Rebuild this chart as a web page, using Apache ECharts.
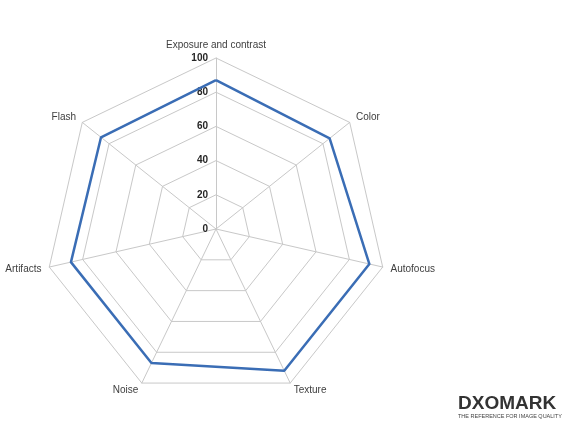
<!DOCTYPE html>
<html>
<head>
<meta charset="utf-8">
<script src="https://cdn.jsdelivr.net/npm/echarts@6/dist/echarts.min.js"></script>
<style>
html,body{margin:0;padding:0;background:#fff;}
#radar{width:570px;height:431px;}
</style>
</head>
<body>
<div id="radar"></div>
<script>
// clockwise from the top
var names=['Exposure and contrast','Color','Autofocus','Texture','Noise','Artifacts','Flash'];
var scores=[87,85,92,92,87,87,86];
var maxScore=100;
var tickStep=20;

var mychart=echarts.init(document.getElementById("radar"));
// echarts lays radar axes out counterclockwise, so walk the list backwards after the first one
var indicator=[];
var values=[];
for (var i=0;i<names.length;i++){
    var k=(names.length-i)%names.length;
    indicator.push({name:names[k],max:maxScore,min:0});
    values.push(scores[k]);
}
option = {
    backgroundColor:'#fff',
    textStyle:{fontFamily:'Liberation Sans'},
    title : {
        text: 'DXOMARK',
        subtext: 'THE REFERENCE FOR IMAGE QUALITY',
        left: 453,
        top: 389,
        itemGap: 0,
        textStyle:{fontSize:19,fontWeight:'bold',color:'#333',fontFamily:'Liberation Sans'},
        subtextStyle:{fontSize:5.5,color:'#444',fontFamily:'Liberation Sans'}
    },
    radar: {
        center:[216,229],
        radius:171,
        startAngle:90,
        shape:'polygon',
        splitNumber:5,
        indicator:indicator,
        nameGap:8,
        axisName:{color:'#404040',fontSize:10,fontFamily:'Liberation Sans'},
        axisLine:{lineStyle:{color:'#c8c8c8',width:1}},
        splitLine:{lineStyle:{color:'#c8c8c8',width:1}},
        splitArea:{show:false}
    },
    polar:{center:[216,229],radius:171},
    angleAxis:{show:false,startAngle:90,min:0,max:360},
    radiusAxis:{
        min:0,max:maxScore,interval:tickStep,
        axisLine:{show:false},
        axisTick:{show:false},
        splitLine:{show:false},
        axisLabel:{color:'#262626',fontSize:10,fontWeight:'bold',margin:8}
    },
    series : [
        {
            type: 'radar',
            symbol:'none',
            lineStyle:{color:'#3a6db5',width:2.5},
            data:[{value:values,name:'Score'}]
        }
    ]
};
mychart.setOption(option);
</script>
</body>
</html>
